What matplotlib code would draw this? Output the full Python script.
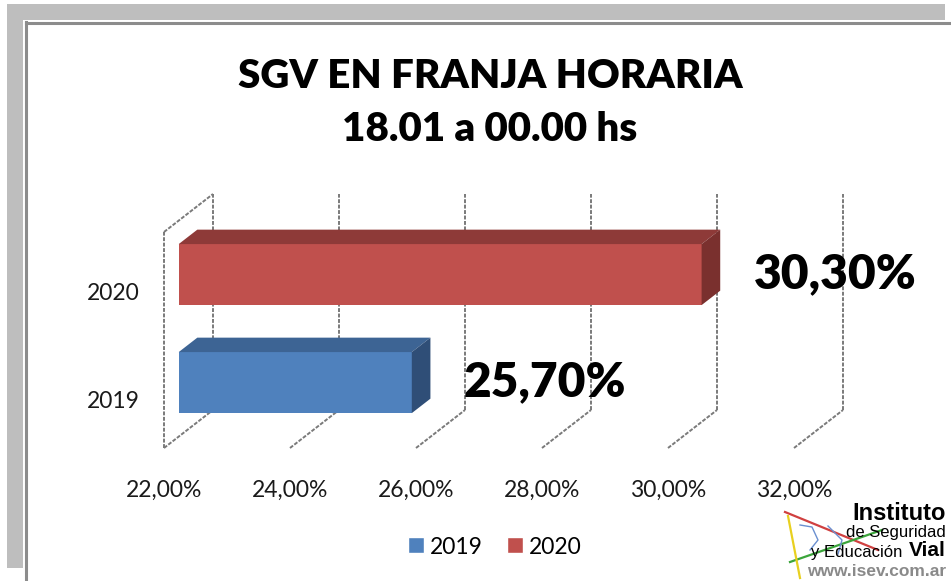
import matplotlib

matplotlib.use("Agg")
import matplotlib.pyplot as plt
from matplotlib.patches import Polygon, Rectangle
from matplotlib.lines import Line2D

# data
years = ["2019", "2020"]
values = [25.70, 30.30]
value_labels = ["25,70%", "30,30%"]
tick_values = [22, 24, 26, 28, 30, 32]
tick_labels = ["22,00%", "24,00%", "26,00%", "28,00%", "30,00%", "32,00%"]
title_lines = ["SGV EN FRANJA HORARIA", "18.01 a 00.00 hs"]

front_colors = ["#4F81BD", "#C0504D"]
top_colors = ["#3D6494", "#8E3A38"]
side_colors = ["#2F4E77", "#7A302E"]

plt.rcParams["font.family"] = ["Lato", "DejaVu Sans"]

W, H = 951, 581
fig = plt.figure(figsize=(W / 100, H / 100), dpi=100)

# frame / background in pixel coords
bg = fig.add_axes([0, 0, 1, 1])
bg.set_xlim(0, W)
bg.set_ylim(H, 0)
bg.axis("off")
bg.add_patch(Rectangle((7, 4), 938, 564, facecolor="#BEBEBE", edgecolor="none"))
bg.add_patch(Rectangle((23, 20), 940, 580, facecolor="white", edgecolor="none"))
bg.plot([26, 26], [22, H], color="#8C8C8C", lw=2.2)
bg.plot([26, W], [22.5, 22.5], color="#8C8C8C", lw=2.2)

# chart axes: front plane mapping
x0_px, px_per_pct = 164, 63.0
floor_px, px_per_cat = 448, 108.0
base = 22
ax = fig.add_axes([0, 0, 1, 1])
ax.patch.set_visible(False)
ax.axis("off")
ax.set_xlim(base - x0_px / px_per_pct, base + (W - x0_px) / px_per_pct)
ax.set_ylim((floor_px - H) / px_per_cat - 0.5, floor_px / px_per_cat - 0.5)

# depth offsets in data units
DX = 49 / px_per_pct
DY = 38 / px_per_cat
d0, d1 = 0.30, 0.68
bh = 0.565
lo, hi = -0.5, len(years) - 0.5

grid_kw = dict(color="#7A7A7A", lw=1.4, linestyle=(0, (2, 0.8)), zorder=1)
for t, lab in zip(tick_values, tick_labels):
    ax.plot([t + DX, t + DX], [lo + DY, hi + DY], **grid_kw)
    ax.plot([t, t + DX], [lo, lo + DY], **grid_kw)
    ax.annotate(lab, (t, lo), xytext=(0, -42), textcoords="offset pixels",
                ha="center", va="center", fontsize=16.5, color="#1A1A1A")
ax.plot([base, base], [lo, hi], **grid_kw)
ax.plot([base, base + DX], [hi, hi + DY], **grid_kw)

for i, (yr, v) in enumerate(zip(years, values)):
    ax.annotate(yr, (base, i), xytext=(-24, -7), textcoords="offset pixels",
                ha="right", va="center", fontsize=16.5, color="#1A1A1A")
    ax.barh(i + d0 * DY, v - base, left=base + d0 * DX, height=bh,
            color=front_colors[i], zorder=3)
    yt, yb = i + bh / 2, i - bh / 2
    top = [(base + d0 * DX, yt + d0 * DY), (v + d0 * DX, yt + d0 * DY),
           (v + d1 * DX, yt + d1 * DY), (base + d1 * DX, yt + d1 * DY)]
    side = [(v + d0 * DX, yb + d0 * DY), (v + d1 * DX, yb + d1 * DY),
            (v + d1 * DX, yt + d1 * DY), (v + d0 * DX, yt + d0 * DY)]
    ax.add_patch(Polygon(top, closed=True, facecolor=top_colors[i], edgecolor="none", zorder=3))
    ax.add_patch(Polygon(side, closed=True, facecolor=side_colors[i], edgecolor="none", zorder=3))
    ax.annotate(value_labels[i], (v + d0 * DX, i + d0 * DY), xytext=(52, 0),
                textcoords="offset pixels", ha="left", va="center",
                fontsize=34.5, fontweight="heavy", zorder=5)

fig.text(490 / W, 1 - 76 / H, title_lines[0], ha="center", va="center",
         fontsize=29, fontweight="heavy")
fig.text(490 / W, 1 - 129 / H, title_lines[1], ha="center", va="center",
         fontsize=29, fontweight="heavy")

handles = [Line2D([0], [0], marker="s", color="w", markerfacecolor=c, markersize=12, label=y)
           for c, y in zip(front_colors, years)]
fig.legend(handles=handles, loc="center", bbox_to_anchor=(494 / W, 1 - 547 / H), ncol=2,
           frameon=False, fontsize=16.5, handlelength=0.8, handletextpad=0.2, columnspacing=1.0)

# logo (decoration)
bg.plot([785, 878], [512, 550], color="#D04040", lw=1.6)
bg.plot([790, 882], [562, 530], color="#3BA53B", lw=1.6)
bg.plot([788, 800], [516, 578], color="#E8D020", lw=1.6)
bg.plot([800, 812, 818, 810], [525, 527, 540, 550], color="#6A8FD0", lw=1.0)
bg.plot([828, 842, 838], [526, 540, 554], color="#6A8FD0", lw=1.0)
logo_kw = dict(va="center", family=["Liberation Sans", "DejaVu Sans"])
bg.text(946, 514, "Instituto", fontsize=17, fontweight="bold", ha="right", **logo_kw)
bg.text(946, 533, "de Seguridad", fontsize=12, ha="right", **logo_kw)
bg.text(946, 551, "Vial", fontsize=15, fontweight="bold", ha="right", **logo_kw)
bg.text(902, 552, "y Educación", fontsize=12, ha="right", **logo_kw)
bg.text(946, 571, "www.isev.com.ar", fontsize=12.5, fontweight="bold", color="#8A8A8A",
        ha="right", **logo_kw)

fig.savefig("out.png", dpi=100)
